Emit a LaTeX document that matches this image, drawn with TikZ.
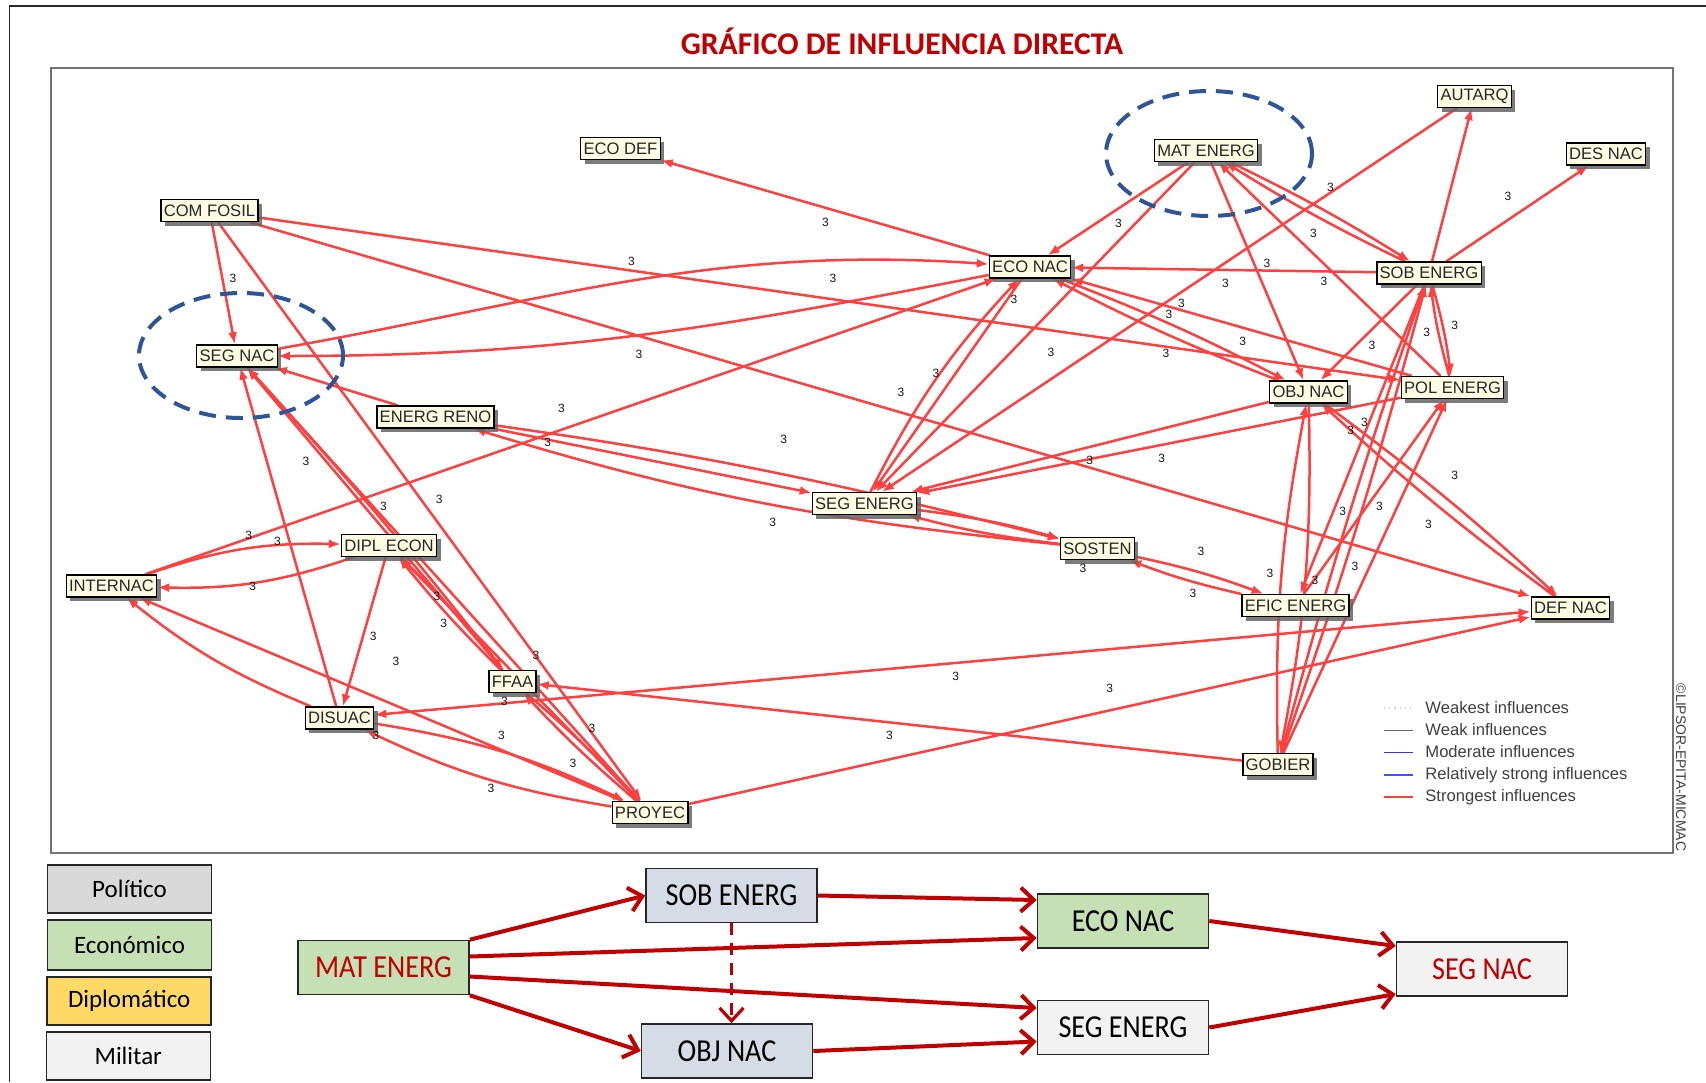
\documentclass[tikz,border=0pt]{standalone}
\usepackage{fontspec}
\setmainfont{Liberation Sans}
\newfontfamily\calfont{Carlito}
\newfontfamily\calcond{Carlito}[FakeStretch=0.88]
\usetikzlibrary{arrows.meta,shadows,calc}
\definecolor{boxfill}{RGB}{253,252,226}
\definecolor{edgered}{RGB}{255,64,64}
\definecolor{darkred}{RGB}{192,0,0}
\definecolor{ellblue}{RGB}{47,85,151}
\definecolor{polgray}{RGB}{217,217,217}
\definecolor{ecogreen}{RGB}{197,224,180}
\definecolor{dipyellow}{RGB}{255,217,102}
\definecolor{milgray}{RGB}{242,242,242}
\definecolor{objblue}{RGB}{214,220,229}
\pgfdeclarelayer{bottom}
\pgfdeclarelayer{edges}
\pgfsetlayers{bottom,edges,main}
\tikzset{
  mbox/.style={draw=black, line width=0.65pt, fill=boxfill, inner xsep=1.4pt, inner ysep=0pt,
    minimum height=11pt, font=\fontsize{8.3pt}{9pt}\selectfont, text=black!85,
    drop shadow={shadow xshift=2pt, shadow yshift=-2pt, fill=black!60, opacity=0.85}},
  edge/.style={draw=edgered, line width=1.25pt, -{Latex[length=6pt,width=4.5pt]}},
  both/.style={draw=edgered, line width=1.25pt, {Latex[length=6pt,width=4.5pt]}-{Latex[length=6pt,width=4.5pt]}},
  num/.style={font=\fontsize{6pt}{7pt}\selectfont, inner sep=0pt, text=black!90},
  ell/.style={draw=ellblue, line width=2pt, dash pattern=on 8.5pt off 5pt},
  lgtext/.style={anchor=west, inner sep=0pt, font=\fontsize{8.3pt}{9pt}\selectfont, text=black!75},
  catbox/.style={draw=black!85, line width=0.8pt, minimum width=82pt, minimum height=24pt,
    inner sep=0pt, font=\calfont\fontsize{12.5pt}{14pt}\selectfont},
  flowbox/.style={draw=black!85, line width=0.8pt, minimum width=85.5pt, minimum height=27pt,
    inner sep=0pt, font=\calcond\fontsize{16pt}{18pt}\selectfont},
  flow/.style={draw=darkred, line width=2pt, -{Straight Barb[length=6.5pt,width=12pt]}},
}
\begin{document}
\begin{tikzpicture}[x=0.5pt,y=-0.5pt]
\useasboundingbox (0,0) rectangle (1706,1082);
\begin{pgfonlayer}{bottom}
  \fill[white] (0,0) rectangle (1706,1082);
  \draw[black!85, line width=0.6pt] (9.6,1082) -- (9.6,6) -- (1706,6);
  \draw[black!55, line width=1pt] (51,67.7) rectangle (1673,852.5);
\end{pgfonlayer}

\node[font=\calfont\bfseries\fontsize{15.8pt}{18pt}\selectfont, text=darkred, inner sep=0pt] (title) at (902,41.5) {GRÁFICO DE INFLUENCIA DIRECTA};

% dashed ellipses
\draw[ell] (241,355.5) ellipse [x radius=51pt, y radius=31.25pt];
\draw[ell] (1209,153.5) ellipse [x radius=51.5pt, y radius=31.25pt];

% MICMAC nodes
\node[mbox] (COMF) at (209.5,210.5) {COM FOSIL};
\node[mbox] (ECODEF) at (620.5,148.5) {ECO DEF};
\node[mbox] (SEGNAC) at (237,356) {SEG NAC};
\node[mbox] (ENRENO) at (435.5,417) {ENERG RENO};
\node[mbox] (DIPL) at (389,545.5) {DIPL ECON};
\node[mbox] (INTER) at (111.5,586) {INTERNAC};
\node[mbox] (FFAA) at (512.5,681.5) {FFAA};
\node[mbox] (DISUAC) at (339.5,718) {DISUAC};
\node[mbox] (PROYEC) at (650,812.5) {PROYEC};
\node[mbox] (SEGEN) at (864.5,503.5) {SEG ENERG};
\node[mbox] (SOSTEN) at (1097.5,548.5) {SOSTEN};
\node[mbox] (ECONAC) at (1030,267) {ECO NAC};
\node[mbox] (MATEN) at (1206,150.5) {MAT ENERG};
\node[mbox] (AUTARQ) at (1474.5,96.5) {AUTARQ};
\node[mbox] (DESNAC) at (1606,154) {DES NAC};
\node[mbox] (SOBEN) at (1429,273) {SOB ENERG};
\node[mbox] (OBJNAC) at (1308.5,392) {OBJ NAC};
\node[mbox] (POLEN) at (1452.5,387.5) {POL ENERG};
\node[mbox] (EFIC) at (1295.5,605.5) {EFIC ENERG};
\node[mbox] (DEFNAC) at (1570.5,608) {DEF NAC};
\node[mbox] (GOBIER) at (1278,764.5) {GOBIER};

\begin{pgfonlayer}{edges}
  % COM FOSIL
  \draw[edge] (COMF) -- (SEGNAC);
  \draw[edge] (COMF) -- (PROYEC);
  \draw[edge] (COMF) -- (POLEN);
  \draw[edge] (COMF) -- (DEFNAC);
  % SEG NAC
  \draw[edge] (SEGNAC) to[out=10,in=176] (ECONAC);
  \draw[edge] (ECONAC) to[out=191,in=0] (SEGNAC);
  \draw[edge] (ENRENO) -- (SEGNAC);
  \draw[edge] (DISUAC) -- (SEGNAC);
  \draw[edge] (FFAA) -- (SEGNAC);
  \draw[edge] (PROYEC) -- (SEGNAC);
  \draw[edge] (SEGNAC) to[bend left=2] (FFAA);
  % INTERNAC
  \draw[edge] (INTER) -- (ECONAC);
  \draw[edge] (INTER) to[bend left=10] (DIPL);
  \draw[edge] (DIPL) to[bend left=10] (INTER);
  \draw[edge] (DISUAC) to[bend left=8] (INTER);
  \draw[edge] (PROYEC) -- (INTER);
  % DIPL ECON
  \draw[edge] (DIPL) -- (DISUAC);
  \draw[edge] (DIPL) to[bend left=3] (FFAA);
  \draw[edge] (FFAA) to[bend left=3] (DIPL);
  \draw[edge] (PROYEC) -- (DIPL);
  % FFAA / PROYEC / DISUAC
  \draw[edge] (FFAA) to[bend left=3] (PROYEC);
  \draw[edge] (PROYEC) to[bend left=3] (FFAA);
  \draw[edge] (PROYEC) to[bend left=8] (DISUAC);
  \draw[edge] (DISUAC) to[bend left=8] (PROYEC);
  \draw[edge] (GOBIER) -- (FFAA);
  \draw[both] (DISUAC) -- (DEFNAC);
  \draw[edge] (PROYEC) -- (DEFNAC);
  % ENERG RENO
  \draw[edge] (ENRENO) to[out=-8,in=166] (SOSTEN);
  \draw[edge] (ENRENO) -- (SEGEN);
  \draw[edge] (SOSTEN) to[out=174,in=-17] (ENRENO);
  % SEG ENERG
  \draw[edge] (SEGEN) to[bend left=8] (ECONAC);
  \draw[edge] (ECONAC) -- (SEGEN);
  \draw[edge] (MATEN) -- (SEGEN);
  \draw[edge] (AUTARQ) -- (SEGEN);
  \draw[edge] (OBJNAC) -- (SEGEN);
  \draw[edge] (POLEN) -- (SEGEN);
  \draw[edge] (SEGEN) to[bend left=4] (SOSTEN);
  \draw[edge] (SOSTEN) to[bend left=4] (SEGEN);
  % ECO NAC
  \draw[edge] (ECONAC) -- (ECODEF);
  \draw[edge] (MATEN) -- (ECONAC);
  \draw[edge] (SOBEN) -- (ECONAC);
  \draw[edge] (ECONAC) to[bend left=3] (OBJNAC);
  \draw[edge] (OBJNAC) to[bend left=3] (ECONAC);
  \draw[edge] (POLEN) -- (ECONAC);
  % MAT ENERG
  \draw[edge] (MATEN) -- (OBJNAC);
  \draw[edge] (MATEN) to[bend left=3] (SOBEN);
  \draw[edge] (SOBEN) to[bend left=3] (MATEN);
  \draw[edge] (POLEN) -- (MATEN);
  % SOB ENERG
  \draw[edge] (SOBEN) -- (DESNAC);
  \draw[edge] (SOBEN) -- (AUTARQ);
  \draw[edge] (SOBEN) -- (OBJNAC);
  \draw[edge] (SOBEN) to[bend left=4] (POLEN);
  \draw[edge] (POLEN) to[bend left=4] (SOBEN);
  \draw[edge] (SOBEN) -- (EFIC);
  % EFIC ENERG / GOBIER
  \draw[edge] (SOSTEN) to[bend left=4] (EFIC);
  \draw[edge] (EFIC) to[bend left=4] (SOSTEN);
  \draw[edge] (EFIC) -- (POLEN);
  \draw[edge] (GOBIER) -- (POLEN);
  \draw[edge] (GOBIER) to[bend left=2] (SOBEN);
  \draw[edge] (GOBIER) to[bend right=2] (SOBEN);
  \draw[edge] (GOBIER) to[bend left=6] (OBJNAC);
  \draw[edge] (OBJNAC) to[bend left=6] (GOBIER);
  \draw[edge] (OBJNAC) to[bend left=3] (DEFNAC);
  \draw[edge] (DEFNAC) to[bend left=3] (OBJNAC);
\end{pgfonlayer}

% influence values
\foreach \p [count=\i] in {(233,278),(631.5,261),(833,278),(639,354),(1014,299),(936,373),(901,392.5),(1051,352.5),(1118.5,223),(825.5,222.7),(1330.5,187.5),(1508,196.7),(1313.5,233.3),(1267,263.2),(1225.5,283.3),(1324,281.7),(1181.5,303.8),(1169,314.5),(1242.7,341.7),(1166,353.8),(1372,345.5),(1454.7,325),(1426.7,332.5),(561.5,408.3),(547.7,442.3),(306,461.7),(383.5,506),(439.2,499.7),(248.8,535),(277.5,541),(252.6,586.7),(437,596.4),(443.7,623.7),(373.2,636),(396,661.7),(535.9,655),(504.5,701.7),(376,735),(501.4,735),(573,763.3),(490.9,788.8),(592,728.2),(783.8,439.2),(772.8,522),(1089.7,460),(1083,568.3),(955.7,676),(1109.6,688.3),(889.5,735),(1161.6,458.3),(1364.5,422.5),(1350.6,430.3),(1454.7,475),(1342.7,511.7),(1379.5,506),(1428.4,524),(1201,551.7),(1270,573.7),(1315,580.8),(1355,566.7),(1193,593.3)}
  \node[num] (v\i) at \p {3};

% MICMAC legend
\coordinate (la1) at (1384,708); \coordinate (lb1) at (1413,708);
\coordinate (la2) at (1384,730); \coordinate (lb2) at (1413,730);
\coordinate (la3) at (1384,752); \coordinate (lb3) at (1413,752);
\coordinate (la4) at (1384,775); \coordinate (lb4) at (1413,775);
\coordinate (la5) at (1384,797); \coordinate (lb5) at (1413,797);
\draw[gray!35, line width=0.6pt, dotted] (la1) -- (lb1);
\draw[black!60, line width=0.5pt] (la2) -- (lb2);
\draw[blue!80, line width=0.5pt] (la3) -- (lb3);
\draw[blue!70, line width=1.2pt] (la4) -- (lb4);
\draw[edgered, line width=1.2pt] (la5) -- (lb5);
\node[lgtext] (lt1) at (1425,708) {Weakest influences};
\node[lgtext] (lt2) at (1425,730) {Weak influences};
\node[lgtext] (lt3) at (1425,752) {Moderate influences};
\node[lgtext] (lt4) at (1425,775) {Relatively strong influences};
\node[lgtext] (lt5) at (1425,797) {Strongest influences};
\node[rotate=-90, inner sep=0pt, font=\fontsize{7pt}{8pt}\selectfont, text=black!75] (copy) at (1681,767.5) {©LIPSOR-EPITA-MICMAC};

% category legend
\node[catbox, fill=polgray] (cpol) at (129.5,889) {Político};
\node[catbox, fill=ecogreen, minimum height=25pt] (ceco) at (129.5,945) {Económico};
\node[catbox, fill=dipyellow] (cdip) at (129.2,1000.8) {Diplomático};
\node[catbox, fill=milgray] (cmil) at (128.3,1056) {Militar};

% flow diagram
\node[flowbox, fill=ecogreen, text=darkred] (MATEN2) at (383.5,967.5) {MAT ENERG};
\node[flowbox, fill=objblue] (SOBEN2) at (731.5,895.5) {SOB ENERG};
\node[flowbox, fill=objblue] (OBJNAC2) at (727,1051) {OBJ NAC};
\node[flowbox, fill=ecogreen] (ECONAC2) at (1123,921) {ECO NAC};
\node[flowbox, fill=milgray] (SEGEN2) at (1123,1027.5) {SEG ENERG};
\node[flowbox, fill=milgray, text=darkred] (SEGNAC2) at (1482,969) {SEG NAC};

\draw[flow] (MATEN2.north east) -- (SOBEN2.west);
\draw[flow] ($(MATEN2.east)+(0,-11)$) -- ($(ECONAC2.west)+(0,17)$);
\draw[flow] ($(MATEN2.east)+(0,9)$) -- ($(SEGEN2.west)+(0,-19.5)$);
\draw[flow] (MATEN2.south east) -- (OBJNAC2.west);
\draw[flow] (SOBEN2.east) -- ($(ECONAC2.west)+(0,-21)$);
\draw[flow] (OBJNAC2.east) -- ($(SEGEN2.west)+(0,14)$);
\draw[flow] (ECONAC2.east) -- ($(SEGNAC2.west)+(0,-23)$);
\draw[flow] (SEGEN2.east) -- ($(SEGNAC2.west)+(0,25)$);
\draw[flow, line width=1.6pt, dash pattern=on 6pt off 4pt] (SOBEN2.south) -- (SOBEN2.south |- OBJNAC2.north);
\end{tikzpicture}
\end{document}
